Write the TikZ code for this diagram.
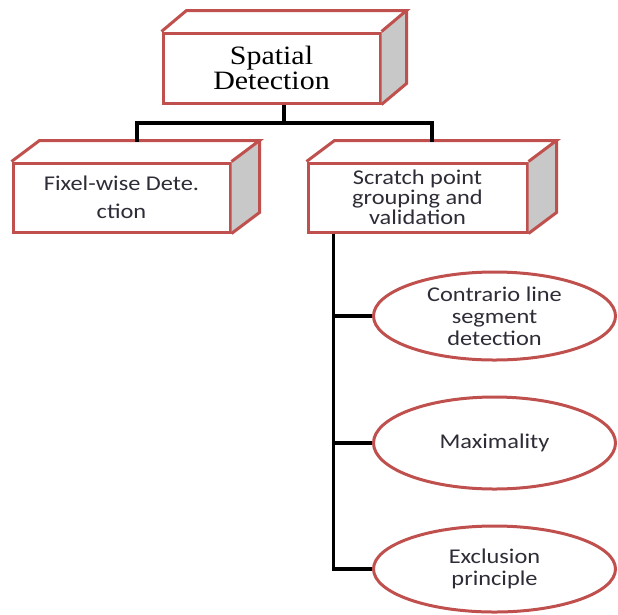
\documentclass[tikz,border=0pt]{standalone}
\usepackage{fontspec}
\usetikzlibrary{shapes.geometric}
\newfontfamily\calibsans[FakeStretch=1.16]{Carlito}
\newfontfamily\timesser[FakeStretch=1.13]{Liberation Serif}
\definecolor{boxred}{RGB}{192,80,77}
\definecolor{sidegray}{RGB}{200,200,200}
\definecolor{txtgray}{RGB}{45,45,55}
\newcommand\drawcubefaces[3]{%
  \fill[sidegray] (#1.north east) -- ++(#2,-#3) -- ([shift={(#2,-#3)}]#1.south east) -- (#1.south east) -- cycle;
  \draw[cubeline] (#1.north west) -- ++(#2,-#3) -- ([shift={(#2,-#3)}]#1.north east) -- (#1.north east);
  \draw[cubeline] ([shift={(#2,-#3)}]#1.north east) -- ([shift={(#2,-#3)}]#1.south east) -- (#1.south east);
}
\begin{document}
\begin{tikzpicture}[x=1pt,y=-1pt,
  cubeline/.style={draw=boxred,line width=3pt,line join=miter},
  frontbox/.style={rectangle,draw=boxred,line width=3pt,fill=white,inner sep=0pt,align=center,text=txtgray},
  ovalnode/.style={ellipse,draw=boxred,line width=3pt,fill=white,inner sep=0pt,align=center,text=txtgray,
    minimum width=242pt,font=\calibsans\fontsize{21}{22}\selectfont},
  conn/.style={draw=black,line width=3.5pt}]
\useasboundingbox (0,0) rectangle (618,614);
\fill[white] (0,0) rectangle (618,614);
% boxes
\node[frontbox,minimum width=217pt,minimum height=70pt,font=\timesser\fontsize{26.5}{25}\selectfont,text=black]
  (spatial) at (271.5,68) {Spatial\\Detection};
\node[frontbox,minimum width=217pt,minimum height=69pt,font=\calibsans\fontsize{21}{22}\selectfont]
  (fixel) at (121.5,197.5) {Fixel-wise Dete.\\[6pt]ction};
\node[frontbox,minimum width=219pt,minimum height=69pt,font=\calibsans\fontsize{21}{20}\selectfont]
  (scratch) at (417.5,197.5) {Scratch point\\grouping and\\validation};
\drawcubefaces{spatial}{25}{21}
\drawcubefaces{fixel}{28}{21}
\drawcubefaces{scratch}{28}{21}
% ellipses
\node[ovalnode,minimum height=88pt] (e1) at (494.5,316) {Contrario line\\segment\\detection};
\node[ovalnode,minimum height=92pt] (e2) at (494.5,443) {Maximality};
\node[ovalnode,minimum height=86pt] (e3) at (494.5,569) {Exclusion\\principle};
% connectors
\coordinate (j) at (284,123);
\coordinate (ftop) at (137,142);
\coordinate (stop) at (432,142);
\draw[conn] (j |- spatial.south) -- (j);
\draw[conn] (ftop) |- (j) -| (stop);
\coordinate (trunk) at ([xshift=27pt]scratch.south west);
\draw[conn] (trunk) |- (e3.west);
\draw[conn] (e1.west -| trunk) -- (e1.west);
\draw[conn] (e2.west -| trunk) -- (e2.west);
\end{tikzpicture}
\end{document}
